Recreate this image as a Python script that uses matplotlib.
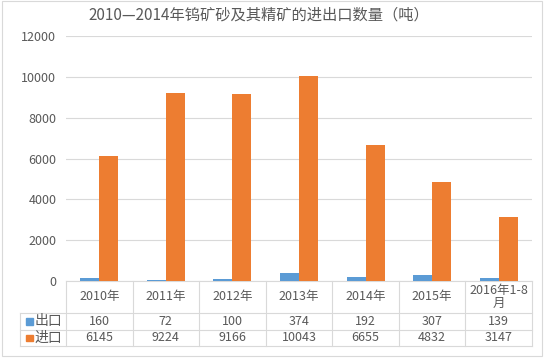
import numpy as np
import matplotlib.pyplot as plt
from matplotlib.patches import Rectangle
from matplotlib.transforms import blended_transform_factory

plt.rcParams['font.family'] = ['Noto Sans CJK SC', 'DejaVu Sans']

# data
years = ['2010年', '2011年', '2012年', '2013年', '2014年', '2015年', '2016年1-8\n月']
export = [160, 72, 100, 374, 192, 307, 139]
imports = [6145, 9224, 9166, 10043, 6655, 4832, 3147]
series_names = ['出口', '进口']
colors = ['#5B9BD5', '#ED7D31']

W, H = 547, 359
grey = '#D9D9D9'
txt = '#595959'

fig = plt.figure(figsize=(W / 100, H / 100), dpi=100)
ax = fig.add_axes([66 / W, (H - 281) / H, 466 / W, 245 / H])

x = np.arange(len(years))
w = 0.286
ax.bar(x - w / 2, export, w, color=colors[0], zorder=3)
ax.bar(x + w / 2, imports, w, color=colors[1], zorder=3)

ax.set_xlim(-0.5, len(years) - 0.5)
ax.set_ylim(0, 12000)
ax.set_yticks(range(0, 12001, 2000))
ax.yaxis.grid(True, color=grey, lw=0.8)
ax.set_axisbelow(True)
ax.set_xticks([])
for s in ax.spines.values():
    s.set_visible(False)
ax.tick_params(axis='y', length=0, labelsize=9, labelcolor=txt, pad=7)

fig.text(0.474, 1 - 15 / H, '2010—2014年钨矿砂及其精矿的进出口数量（吨）',
         ha='center', va='center', fontsize=11, color=txt)

# data table under the axis
tr = blended_transform_factory(ax.transData, ax.transAxes)
n = len(years)
left = -1.19
rows = [0, -0.1306, -0.2, -0.265]
lk = dict(color=grey, lw=0.8, transform=tr, clip_on=False)
ax.plot([-0.5, n - 0.5], [0, 0], **lk)
for yy in rows[1:]:
    ax.plot([left, n - 0.5], [yy, yy], **lk)
for i in range(n + 1):
    ax.plot([i - 0.5, i - 0.5], [rows[0], rows[-1]], **lk)
ax.plot([left, left], [rows[1], rows[-1]], **lk)

for i, lab in enumerate(years):
    ax.text(i, (rows[0] + rows[1]) / 2, lab, transform=tr, ha='center', va='center',
            fontsize=9, color=txt, linespacing=1.0)
    ax.text(i, (rows[1] + rows[2]) / 2, str(export[i]), transform=tr, ha='center',
            va='center', fontsize=9, color=txt)
    ax.text(i, (rows[2] + rows[3]) / 2, str(imports[i]), transform=tr, ha='center',
            va='center', fontsize=9, color=txt)

for k, name in enumerate(series_names):
    yc = (rows[k + 1] + rows[k + 2]) / 2
    ax.add_patch(Rectangle((-1.101, yc - 0.0125), 0.105, 0.025, transform=tr,
                           color=colors[k], clip_on=False))
    ax.text(-0.97, yc, name, transform=tr, ha='left', va='center', fontsize=10, color=txt)

# chart border
fig.add_artist(Rectangle((2 / W, (H - 356) / H), 540 / W, 355 / H, transform=fig.transFigure,
                         fill=False, ec=grey, lw=0.8))

fig.savefig('out.png', dpi=100)
